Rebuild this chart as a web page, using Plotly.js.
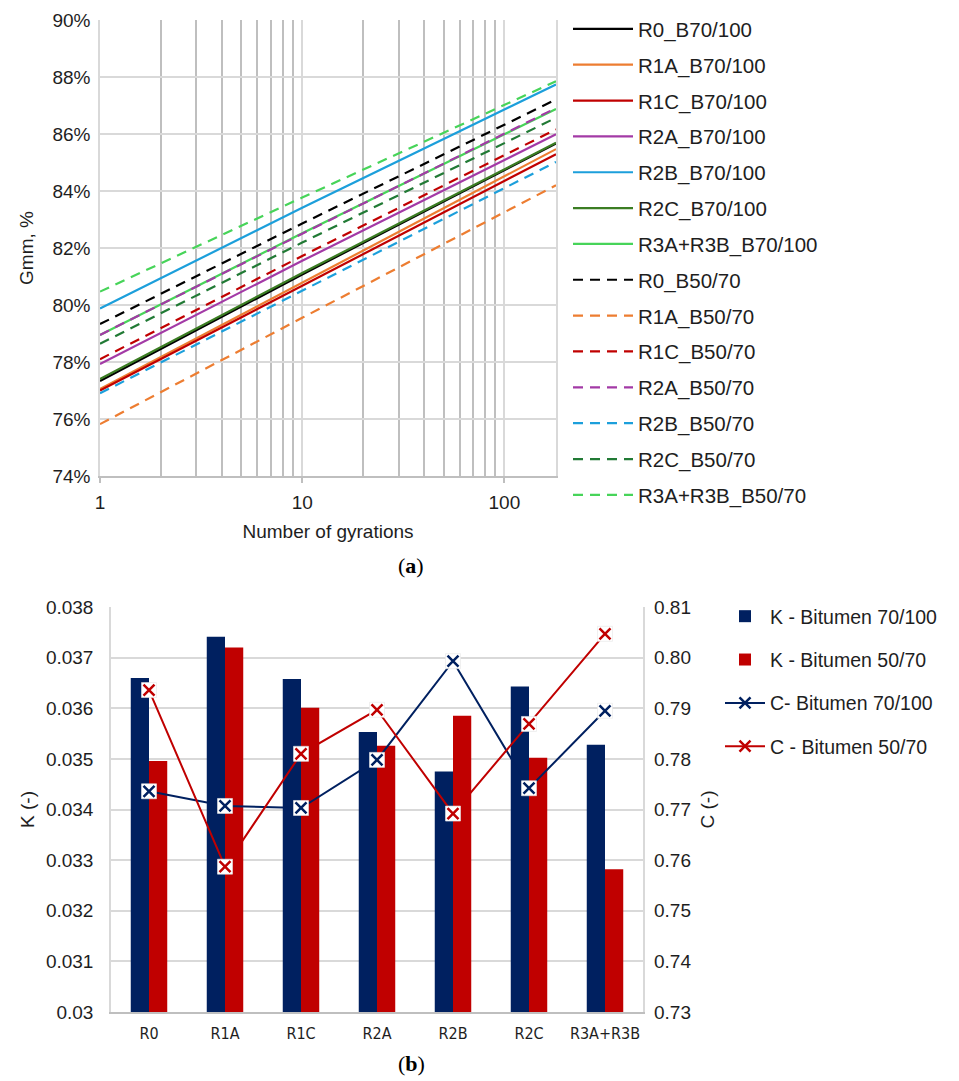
<!DOCTYPE html>
<html>
<head>
<meta charset="utf-8">
<script src="https://cdn.plot.ly/plotly-3.0.1.min.js"></script>
<style>html,body{margin:0;padding:0;background:#fff;}#chart{width:959px;height:1081px;}</style>
</head>
<body>
<div id="chart"></div>
<script>
// ---------- (a) Gmm vs number of gyrations ----------
const gyrations = [1, 10, 180];
const R0_B70_100   = [77.33, 81.07, 85.67];
const R1A_B70_100  = [77.05, 80.78, 85.47];
const R1C_B70_100  = [77.00, 80.68, 85.29];
const R2A_B70_100  = [77.93, 81.55, 85.99];
const R2B_B70_100  = [79.88, 83.41, 87.74];
const R2C_B70_100  = [77.40, 81.12, 85.69];
const R3_B70_100   = [78.95, 82.52, 86.88];
const R0_B50_70    = [79.33, 82.86, 87.21];
const R1A_B50_70   = [75.82, 79.55, 84.20];
const R1C_B50_70   = [78.10, 81.72, 86.16];
const R2A_B50_70   = [78.95, 82.50, 86.91];
const R2B_B50_70   = [76.90, 80.50, 85.02];
const R2C_B50_70   = [78.64, 82.19, 86.57];
const R3_B50_70    = [80.47, 83.77, 87.85];

const seriesA = [
  ['R0_B70/100', R0_B70_100, '#000000', 'solid'],
  ['R1A_B70/100', R1A_B70_100, '#ED7D31', 'solid'],
  ['R1C_B70/100', R1C_B70_100, '#C00000', 'solid'],
  ['R2A_B70/100', R2A_B70_100, '#A33AA6', 'solid'],
  ['R2B_B70/100', R2B_B70_100, '#1C9FDB', 'solid'],
  ['R2C_B70/100', R2C_B70_100, '#3B7D23', 'solid'],
  ['R3A+R3B_B70/100', R3_B70_100, '#47D459', 'solid'],
  ['R0_B50/70', R0_B50_70, '#000000', 'dash'],
  ['R1A_B50/70', R1A_B50_70, '#ED7D31', 'dash'],
  ['R1C_B50/70', R1C_B50_70, '#C00000', 'dash'],
  ['R2A_B50/70', R2A_B50_70, '#A33AA6', 'dash'],
  ['R2B_B50/70', R2B_B50_70, '#1C9FDB', 'dash'],
  ['R2C_B50/70', R2C_B50_70, '#217A35', 'dash'],
  ['R3A+R3B_B50/70', R3_B50_70, '#47D459', 'dash']
];

// ---------- (b) K and C ----------
const mixes = ['R0', 'R1A', 'R1C', 'R2A', 'R2B', 'R2C', 'R3A+R3B'];
const K_70_100 = [0.03660, 0.03741, 0.03658, 0.03553, 0.03475, 0.03643, 0.03528];
const K_50_70  = [0.03496, 0.03720, 0.03601, 0.03526, 0.03585, 0.03502, 0.03282];
const C_70_100 = [0.7736, 0.7707, 0.7703, 0.7798, 0.7993, 0.7742, 0.7895];
const C_50_70  = [0.7936, 0.7587, 0.7810, 0.7897, 0.7692, 0.7869, 0.8047];
const kTicks = [0.030, 0.031, 0.032, 0.033, 0.034, 0.035, 0.036, 0.037, 0.038];
const kTickText = ['0.03', '0.031', '0.032', '0.033', '0.034', '0.035', '0.036', '0.037', '0.038'];

const navy = '#002060', red = '#C00000';
const FONT = 'Liberation Sans, Arial, sans-serif';
const TXT = '#1e1e1e';

const traces = [];
seriesA.forEach(function (s, i) {
  traces.push({
    type: 'scatter', mode: 'lines', x: gyrations, y: s[1], name: s[0],
    xaxis: 'x', yaxis: 'y', legend: 'legend', legendgroup: 'a' + i,
    line: {color: s[2], width: 2.2, dash: s[3] === 'dash' ? '10px,7px' : 'solid'},
    hoverinfo: 'x+y+name'
  });
});

traces.push({type: 'bar', x: mixes, y: K_70_100, name: 'K - Bitumen 70/100',
  xaxis: 'x2', yaxis: 'y3', legend: 'legend2', legendgroup: 'b1', marker: {color: navy}});
traces.push({type: 'bar', x: mixes, y: K_50_70, name: 'K - Bitumen 50/70',
  xaxis: 'x2', yaxis: 'y3', legend: 'legend2', legendgroup: 'b2', marker: {color: red}});
traces.push({type: 'scatter', mode: 'lines+markers', x: mixes, y: C_70_100, name: 'C- Bitumen 70/100',
  xaxis: 'x2', yaxis: 'y4', legend: 'legend2', legendgroup: 'b3',
  line: {color: navy, width: 2}, marker: {symbol: 'x-thin', size: 11, line: {color: navy, width: 2.5}}});
traces.push({type: 'scatter', mode: 'lines+markers', x: mixes, y: C_50_70, name: 'C - Bitumen 50/70',
  xaxis: 'x2', yaxis: 'y4', legend: 'legend2', legendgroup: 'b4',
  line: {color: red, width: 2}, marker: {symbol: 'x-thin', size: 11, line: {color: red, width: 2.5}}});
[[C_70_100, navy], [C_50_70, red]].forEach(function (p) {
  traces.push({type: 'scatter', mode: 'markers', x: mixes, y: p[0], xaxis: 'x2', yaxis: 'y4',
    showlegend: false, hoverinfo: 'skip',
    marker: {symbol: 'square', size: 15, color: '#ffffff', line: {color: '#e6e6e6', width: 0.6}}});
});
[[C_70_100, navy], [C_50_70, red]].forEach(function (p) {
  traces.push({type: 'scatter', mode: 'markers', x: mixes, y: p[0], xaxis: 'x2', yaxis: 'y4',
    showlegend: false, hoverinfo: 'skip',
    marker: {symbol: 'x-thin', size: 11, line: {color: p[1], width: 2.5}}});
});

const W = 959, H = 1081;
const px = function (v) { return v / W; };
const py = function (v) { return 1 - v / H; };

const layout = {
  width: W, height: H,
  margin: {l: 0, r: 0, t: 0, b: 0},
  paper_bgcolor: '#ffffff', plot_bgcolor: '#ffffff',
  font: {family: FONT, color: TXT, size: 19},
  showlegend: true,
  barmode: 'group', bargap: 0.52, bargroupgap: 0,
  xaxis: {
    type: 'log', domain: [px(100), px(556)], anchor: 'y',
    range: [0, Math.log10(180)],
    tickvals: [1, 10, 100], ticktext: ['1', '10', '100'],
    showgrid: true, gridcolor: '#d9d9d9', gridwidth: 1.5,
    minor: {tickvals: [2, 3, 4, 5, 6, 7, 8, 9, 20, 30, 40, 50, 60, 70, 80, 90],
            showgrid: true, gridcolor: '#bfbfbf', gridwidth: 2, ticks: ''},
    ticks: 'outside', ticklen: 5, tickcolor: '#bfbfbf', tickwidth: 1.5,
    ticklabelstandoff: 3,
    showline: true, linecolor: '#bfbfbf', linewidth: 1.5,
    zeroline: false, fixedrange: true,
    tickfont: {size: 19},
    title: {text: 'Number of gyrations', font: {size: 19}, standoff: 13}
  },
  yaxis: {
    domain: [py(476), py(20)], anchor: 'x',
    range: [74, 90], dtick: 2, tick0: 74, ticksuffix: '%',
    showgrid: true, gridcolor: '#d9d9d9', gridwidth: 1.5,
    showline: true, linecolor: '#d9d9d9', linewidth: 1.5, mirror: true,
    zeroline: false, ticks: '', fixedrange: true,
    tickfont: {size: 19}, ticklabelstandoff: 4,
    title: {text: 'Gmm, %', font: {size: 19}, standoff: 14}
  },
  xaxis2: {
    domain: [px(111), px(643)], anchor: 'y3',
    type: 'category',
    showline: true, linecolor: '#bfbfbf', linewidth: 1.5,
    showgrid: false, ticks: '', zeroline: false, fixedrange: true,
    ticklabelstandoff: 6,
    tickfont: {size: 16, family: 'Liberation Sans Narrow, DejaVu Sans Condensed, Arial Narrow, sans-serif'}
  },
  yaxis3: {
    domain: [py(1012), py(607)], anchor: 'x2',
    range: [0.030, 0.038], tickvals: kTicks, ticktext: kTickText,
    showgrid: true, gridcolor: '#d9d9d9', gridwidth: 1.5,
    showline: true, linecolor: '#d9d9d9', linewidth: 1.5, mirror: true,
    zeroline: false, ticks: '', fixedrange: true,
    tickfont: {size: 19}, ticklabelstandoff: 12,
    title: {text: 'K (-)', font: {size: 19}, standoff: 6}
  },
  yaxis4: {
    overlaying: 'y3', side: 'right', anchor: 'x2',
    range: [0.73, 0.81], dtick: 0.01, tick0: 0.73, tickformat: '.2f',
    showgrid: false, showline: false, zeroline: false, ticks: '', fixedrange: true,
    tickfont: {size: 19}, ticklabelstandoff: 10,
    title: {text: 'C (-)', font: {size: 19}, standoff: 10}
  },
  legend: {
    x: px(568), y: py(9), xanchor: 'left', yanchor: 'top',
    font: {size: 20.5, color: TXT}, traceorder: 'grouped', tracegroupgap: 6.2,
    itemwidth: 60, bgcolor: 'rgba(0,0,0,0)'
  },
  legend2: {
    x: px(720), y: py(597), xanchor: 'left', yanchor: 'top',
    font: {size: 19.5, color: TXT}, traceorder: 'grouped', tracegroupgap: 15,
    itemwidth: 40, bgcolor: 'rgba(0,0,0,0)'
  },
  annotations: [
    {text: '(<b>a</b>)', x: px(411), y: py(565), xref: 'paper', yref: 'paper',
     xanchor: 'center', yanchor: 'middle',
     showarrow: false, font: {family: 'Liberation Serif, DejaVu Serif, serif', size: 22, color: '#000'}},
    {text: '(<b>b</b>)', x: px(411), y: py(1063), xref: 'paper', yref: 'paper',
     xanchor: 'center', yanchor: 'middle',
     showarrow: false, font: {family: 'Liberation Serif, DejaVu Serif, serif', size: 22, color: '#000'}}
  ]
};

Plotly.newPlot('chart', traces, layout, {displayModeBar: false, staticPlot: false});
</script>
</body>
</html>
